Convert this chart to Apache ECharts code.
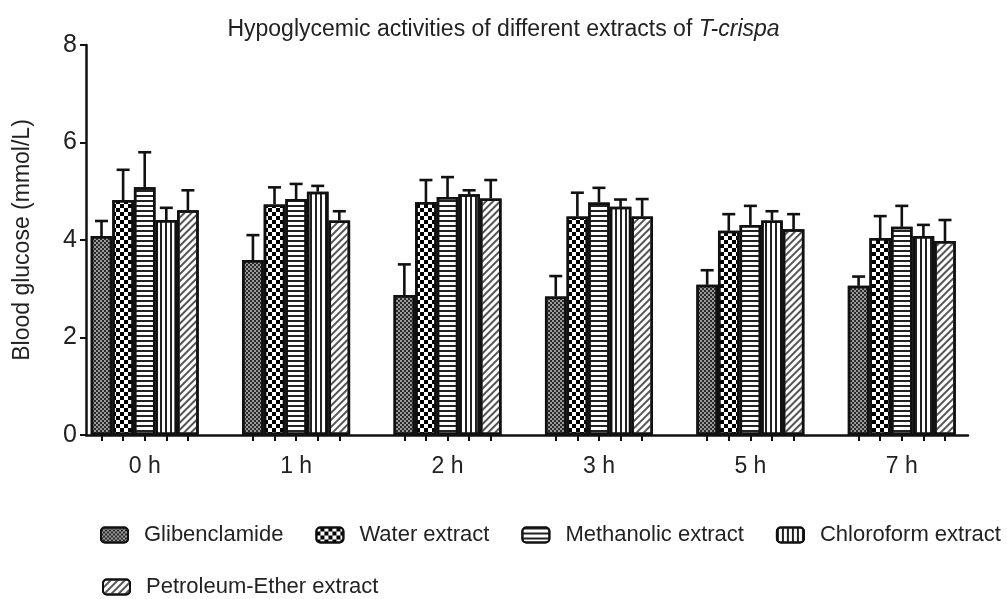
<!DOCTYPE html>
<html>
<head>
<meta charset="utf-8">
<script src="https://cdn.jsdelivr.net/npm/echarts@6/dist/echarts.min.js"></script>
<style>
  html, body { margin: 0; background: #fff; }
  #chart { width: 1007px; height: 599px; }
</style>
</head>
<body>
<div id="chart"></div>
<script>
// data (mean and upper SD)
const categories = ['0 h', '1 h', '2 h', '3 h', '5 h', '7 h'];
const seriesNames = ['Glibenclamide', 'Water extract', 'Methanolic extract', 'Chloroform extract', 'Petroleum-Ether extract'];

const glibenclamide = [4.08, 3.59, 2.87, 2.84, 3.08, 3.06];
const glibenclamideSd = [0.31, 0.51, 0.63, 0.42, 0.30, 0.19];
const waterExtract = [4.82, 4.73, 4.78, 4.48, 4.19, 4.04];
const waterExtractSd = [0.62, 0.35, 0.45, 0.49, 0.34, 0.45];
const methanolicExtract = [5.08, 4.84, 4.88, 4.77, 4.31, 4.27];
const methanolicExtractSd = [0.72, 0.31, 0.41, 0.30, 0.39, 0.43];
const chloroformExtract = [4.41, 4.99, 4.94, 4.68, 4.40, 4.08];
const chloroformExtractSd = [0.25, 0.12, 0.08, 0.15, 0.19, 0.23];
const petroleumExtract = [4.61, 4.40, 4.85, 4.48, 4.22, 3.98];
const petroleumExtractSd = [0.41, 0.19, 0.38, 0.36, 0.31, 0.43];

const yMin = 0;
const yMax = 8;
const yInterval = 2;

const means = [glibenclamide, waterExtract, methanolicExtract, chloroformExtract, petroleumExtract];
const sds = [glibenclamideSd, waterExtractSd, methanolicExtractSd, chloroformExtractSd, petroleumExtractSd];

const FONT = '"Liberation Sans", Arial, sans-serif';
const BAR_W = 21.6;
const INK = '#111';

// fill patterns for each group
const fills = ['#9a9a9a', '#fff', '#fff', '#fff', '#fff'];
const decals = [
  { symbol: 'rect', symbolSize: 1, color: '#2a2a2a', dashArrayX: [[2, 2], [0, 2, 2, 0]], dashArrayY: [2, 0] },
  { symbol: 'rect', symbolSize: 1, color: '#000', dashArrayX: [[4, 4], [0, 4, 4, 0]], dashArrayY: [4, 0] },
  { symbol: 'rect', symbolSize: 1, color: '#222', dashArrayX: [1, 0], dashArrayY: [1.5, 3] },
  { symbol: 'rect', symbolSize: 1, color: '#222', dashArrayX: [1.5, 3], dashArrayY: [1, 0] },
  { symbol: 'rect', symbolSize: 1, color: '#555', dashArrayX: [1, 0], dashArrayY: [1.2, 2.3], rotation: -Math.PI / 4 }
];

const errorBar = k => (params, api) => {
  const x = api.value(0);
  const top = api.coord([x, api.value(1)]);
  const end = api.coord([x, api.value(1) + api.value(2)]);
  const cx = top[0] + (k - 2) * BAR_W;
  const st = { stroke: INK, lineWidth: 2.6 };
  return {
    type: 'group',
    children: [
      { type: 'line', shape: { x1: cx, y1: top[1], x2: cx, y2: end[1] }, style: st },
      { type: 'line', shape: { x1: cx - 6.5, y1: end[1], x2: cx + 6.5, y2: end[1] }, style: st }
    ]
  };
};

const barSeries = seriesNames.map((name, k) => ({
  name: name,
  type: 'bar',
  xAxisIndex: 0,
  yAxisIndex: 0,
  barWidth: BAR_W,
  barGap: '0%',
  data: means[k],
  itemStyle: { color: fills[k], borderColor: INK, borderWidth: 2.5, decal: decals[k] },
  emphasis: { disabled: true },
  z: 2
}));

const errSeries = seriesNames.map((name, k) => ({
  type: 'custom',
  xAxisIndex: 0,
  yAxisIndex: 0,
  renderItem: errorBar(k),
  encode: { x: 0, y: 1 },
  data: categories.map((c, i) => [i, means[k][i], sds[k][i]]),
  z: 3,
  silent: true
}));

// one slot per bar plus a spacer on each side, for the small ticks under the bars
const tickSlots = categories.flatMap(c => [0, 1, 2, 3, 4, 5, 6].map(j => c + '-' + j));

const legendText = { fontFamily: FONT, fontSize: 22, color: '#222', padding: [0, 0, 0, 11] };

const chart = echarts.init(document.getElementById('chart'));

chart.setOption({
  backgroundColor: '#fff',
  animation: false,
  title: {
    left: 'center',
    top: 13,
    text: '{n|Hypoglycemic activities of different extracts of }{i|T-crispa}',
    textStyle: {
      rich: {
        n: { fontFamily: FONT, fontSize: 23, fontWeight: 'normal', color: '#222' },
        i: { fontFamily: FONT, fontSize: 23, fontWeight: 'normal', color: '#222', fontStyle: 'italic' }
      }
    }
  },
  legend: [
    {
      data: seriesNames.slice(0, 4),
      left: 95,
      top: 519,
      itemWidth: 27,
      itemHeight: 15,
      itemGap: 32,
      selectedMode: false,
      textStyle: legendText
    },
    {
      data: seriesNames.slice(4),
      left: 97,
      top: 571,
      itemWidth: 27,
      itemHeight: 15,
      selectedMode: false,
      textStyle: legendText
    }
  ],
  grid: [
    { left: 69, right: 29.5, top: 45, bottom: 164, outerBoundsMode: 'none' },
    { left: 86, right: 39, top: 45, bottom: 164, outerBoundsMode: 'none' }
  ],
  xAxis: [
    {
      type: 'category',
      gridIndex: 0,
      position: 'bottom',
      data: categories,
      axisLine: { show: false },
      axisTick: { show: false },
      axisLabel: { fontFamily: FONT, fontSize: 23, color: '#222', margin: 20 }
    },
    {
      type: 'category',
      gridIndex: 0,
      position: 'bottom',
      data: tickSlots,
      axisLine: { show: false },
      axisLabel: { show: false },
      axisTick: {
        show: true,
        alignWithLabel: true,
        interval: i => i % 7 > 0 && i % 7 < 6,
        length: 6,
        lineStyle: { color: INK, width: 2 }
      }
    },
    {
      type: 'value',
      gridIndex: 1,
      position: 'bottom',
      min: 0,
      max: 1,
      axisLine: { show: true, lineStyle: { color: INK, width: 2.5 } },
      axisTick: { show: false },
      axisLabel: { show: false },
      splitLine: { show: false }
    }
  ],
  yAxis: [
    { type: 'value', gridIndex: 0, min: yMin, max: yMax, interval: yInterval, show: false },
    {
      type: 'value',
      gridIndex: 1,
      min: yMin,
      max: yMax,
      interval: yInterval,
      name: 'Blood glucose (mmol/L)',
      nameLocation: 'middle',
      nameRotate: 90,
      nameGap: 52,
      nameTextStyle: { fontFamily: FONT, fontSize: 23, color: '#222' },
      axisLine: { show: true, lineStyle: { color: INK, width: 2.5 } },
      axisTick: { show: true, length: 6, lineStyle: { color: INK, width: 2 } },
      axisLabel: { fontFamily: FONT, fontSize: 25, color: '#222', margin: 9 },
      splitLine: { show: false }
    }
  ],
  series: barSeries.concat(errSeries)
});
</script>
</body>
</html>
